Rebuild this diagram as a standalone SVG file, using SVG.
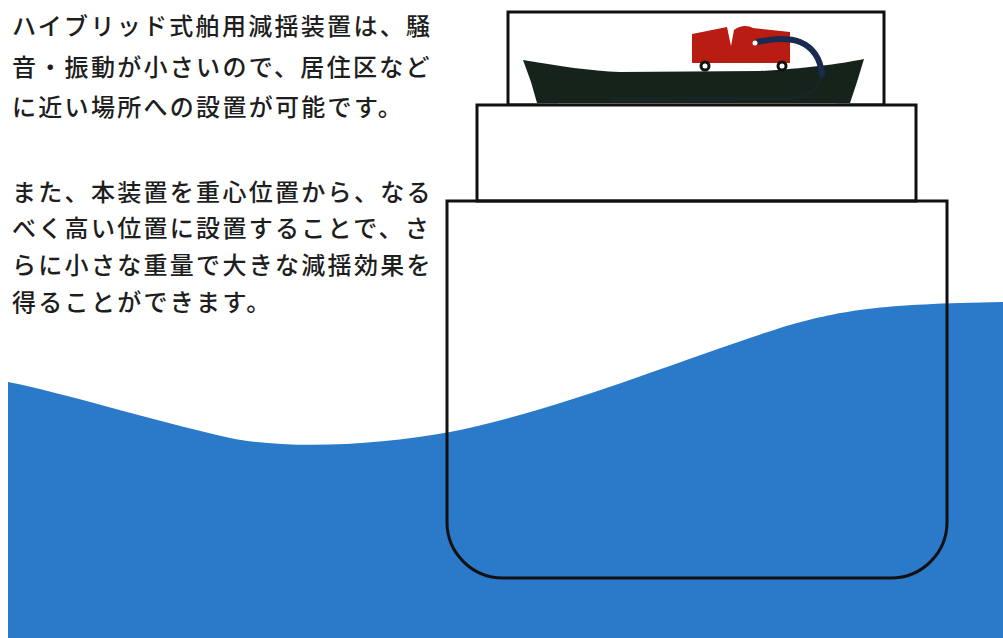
<svg xmlns="http://www.w3.org/2000/svg" width="1003" height="638" viewBox="0 0 1003 638">
  <style>
    .txt { font-family: "Noto Sans CJK JP", "Noto Sans", sans-serif; font-size: 24px; font-weight: 500; fill: #1e1e1e; letter-spacing: 2.3px; }
    .deck { fill: #ffffff; stroke: #111111; stroke-width: 3; }
    .hull { fill: none; stroke: #111111; stroke-width: 3; }
  </style>
  <rect x="0" y="0" width="1003" height="638" fill="#ffffff"/>

  <!-- sea surface -->
  <path id="sea" d="M8,382 C60,392 150,420 230,438 C290,450 380,445 450,432 C560,410 680,360 780,328 C840,310 880,304 1003,302 L1003,638 L8,638 Z" fill="#2b79c9"/>

  <!-- explanatory text -->
  <g id="description" class="txt">
    <text x="12" y="35">ハイブリッド式舶用減揺装置は、騒</text>
    <text x="12" y="76">音・振動が小さいので、居住区など</text>
    <text x="12" y="116">に近い場所への設置が可能です。</text>
    <text x="12" y="201">また、本装置を重心位置から、なる</text>
    <text x="12" y="237">べく高い位置に設置することで、さ</text>
    <text x="12" y="274">らに小さな重量で大きな減揺効果を</text>
    <text x="12" y="311">得ることができます。</text>
  </g>

  <!-- ship cross-section -->
  <g id="ship">
    <rect id="upper-deck" class="deck" x="508" y="12" width="376" height="93"/>
    <rect id="middle-deck" class="deck" x="477" y="105" width="439" height="96"/>
    <path id="main-hull" class="hull" d="M447,201 L947,201 L947,522 A56,56 0 0 1 891,578 L503,578 A56,56 0 0 1 447,522 Z"/>
  </g>

  <!-- stabilizer unit on the upper deck -->
  <g id="stabilizer">
    <line x1="558" y1="102.5" x2="836" y2="102.5" stroke="#7a6a66" stroke-width="2"/>
    <path id="vessel" d="M523,60 C560,66 590,71 620,72 L760,71 C800,69 840,64 864,59 L857,82 L850,103 L537,103 L531,82 Z" fill="#16231b"/>
    <path d="M822,72 C820,88 812,96 790,98 L610,99" fill="none" stroke="#1a2a45" stroke-width="4" opacity="0.3"/>
    <path id="unit" d="M692,34 L727,27 L731,46 L734,30 C740,25 748,25 753,28 L790,32 L790,63 L692,63 Z" fill="#b81c12"/>
    <path id="cable" d="M757,42 C775,38 790,38 800,42 C812,47 820,56 822,74" fill="none" stroke="#1b2a50" stroke-width="6" stroke-linecap="round"/>
    <circle cx="755" cy="43" r="2.5" fill="#ffffff"/>
    <circle cx="705" cy="66" r="5.5" fill="#111111"/>
    <circle cx="705" cy="66" r="2.5" fill="#ffffff"/>
    <circle cx="782" cy="66" r="5.5" fill="#111111"/>
    <circle cx="782" cy="66" r="2.5" fill="#ffffff"/>
  </g>
</svg>
